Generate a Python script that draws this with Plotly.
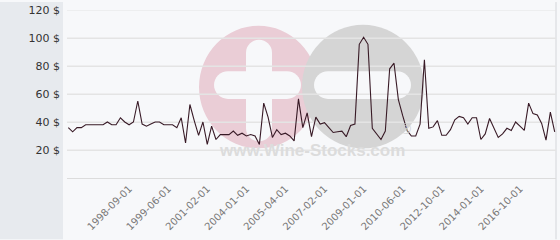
import plotly.graph_objects as go

# ---- data ----
prices = [36, 33, 36, 36, 38, 38, 38, 38, 38, 40,
          38, 38, 43, 40, 38, 40, 55, 38.5, 37, 38.5,
          40, 40, 38, 38, 38, 36, 43, 25, 52.5, 41,
          30.5, 40, 24, 37, 27.5, 31, 31, 31, 33.5, 30.5,
          32, 30, 31, 30, 24, 53.5, 43.5, 29, 34.5, 31,
          32, 30, 26.5, 56.5, 36, 46.5, 29.5, 43.5, 38.5, 39.5,
          36, 32.5, 33, 33.5, 29.5, 37.5, 38.5, 95.5, 100.5, 95.5,
          35.5, 31.5, 27.5, 33.5, 78, 82, 56, 44.5, 34, 30,
          30, 38.5, 84.5, 35.5, 36.5, 41, 30.5, 30.5, 34.5, 41.5,
          44, 43, 38.5, 43, 43, 27.5, 31.5, 42.5, 35.5, 29,
          31.5, 35.5, 34, 40, 37, 34, 53.5, 46, 45, 39,
          27, 47, 33]
point_index = list(range(len(prices)))
tick_labels = ["1998-09-01", "1999-06-01", "2001-02-01", "2004-01-01", "2005-04-01",
               "2007-02-01", "2009-01-01", "2010-06-01", "2012-10-01", "2014-01-01",
               "2016-10-01"]
tick_index = [14, 23, 32, 41, 50, 59, 68, 77, 86, 95, 104]
y_ticks = [20, 40, 60, 80, 100, 120]
y_tick_labels = [f"{v} $" for v in y_ticks]

W, H = 560, 240
ML, MR, MT, MB = 67, 4, 8, 62
PW, PH = W - ML - MR, H - MT - MB
BG = "#f7f8fa"
GRID = "#e4e4e4"
XR = [-0.3, len(prices) - 1 + 0.3]
YR = [0, 120]


def px(x):
    return (x - ML) / PW


def py(y):
    return (H - MB - y) / PH


# decorative watermark placed via data coords
def dx(x):
    return XR[0] + px(x) * (XR[1] - XR[0])


def dy(y):
    return YR[0] + py(y) * (YR[1] - YR[0])


def capsule(x0, x1, y0, y1):
    r = (y1 - y0) / 2 if (x1 - x0) > (y1 - y0) else (x1 - x0) / 2
    k = 0.55 * r
    p = [f"M{dx(x0 + r)},{dy(y0)}",
         f"L{dx(x1 - r)},{dy(y0)}",
         f"C{dx(x1 - r + k)},{dy(y0)} {dx(x1)},{dy(y0 + r - k)} {dx(x1)},{dy(y0 + r)}",
         f"L{dx(x1)},{dy(y1 - r)}",
         f"C{dx(x1)},{dy(y1 - r + k)} {dx(x1 - r + k)},{dy(y1)} {dx(x1 - r)},{dy(y1)}",
         f"L{dx(x0 + r)},{dy(y1)}",
         f"C{dx(x0 + r - k)},{dy(y1)} {dx(x0)},{dy(y1 - r + k)} {dx(x0)},{dy(y1 - r)}",
         f"L{dx(x0)},{dy(y0 + r)}",
         f"C{dx(x0)},{dy(y0 + r - k)} {dx(x0 + r - k)},{dy(y0)} {dx(x0 + r)},{dy(y0)}",
         "Z"]
    return " ".join(p)


D = dict(xref="x", yref="y", layer="below", line_width=0)
shapes = [
    # left panel
    dict(type="rect", xref="paper", yref="paper", x0=px(0), x1=px(63), y0=py(H), y1=py(0),
         fillcolor="#e7eaee", line_width=0, layer="below"),
    # right border
    dict(type="line", xref="paper", yref="paper", x0=px(556), x1=px(556), y0=py(H), y1=py(0),
         line=dict(color="#d4d6da", width=1), layer="below"),
    # watermark circles
    dict(type="circle", x0=dx(199), x1=dx(318), y0=dy(148), y1=dy(24), fillcolor="#eacdd6", **D),
    dict(type="circle", x0=dx(302), x1=dx(424), y0=dy(148), y1=dy(23), fillcolor="#d5d5d5", **D),
    # plus
    dict(type="path", path=capsule(246, 272, 38, 141), fillcolor=BG, **D),
    dict(type="path", path=capsule(214, 301, 70, 98), fillcolor=BG, **D),
    # minus
    dict(type="path", path=capsule(314, 411, 70, 98), fillcolor=BG, **D),
]
# grid lines repeated above the watermark
for v in y_ticks:
    shapes.append(dict(type="line", xref="x", yref="y", x0=XR[0], x1=XR[1], y0=v, y1=v,
                       line=dict(color=GRID, width=1), layer="below"))

fig = go.Figure()
fig.add_trace(go.Scatter(
    x=point_index, y=prices, mode="lines",
    line=dict(color="#381a26", width=1.1),
    hoverinfo="skip", showlegend=False,
))

fig.update_layout(
    width=W, height=H,
    margin=dict(l=ML, r=MR, t=MT, b=MB, pad=0),
    paper_bgcolor=BG,
    plot_bgcolor=BG,
    font=dict(family="DejaVu Sans", size=11, color="#333333"),
    shapes=shapes,
    annotations=[
        dict(text="<b>www.Wine-Stocks.com</b>", xref="paper", yref="paper",
             x=px(312), y=py(162), showarrow=False,
             font=dict(family="Liberation Sans", size=17, color="#dcdcdc")),
        dict(text="®", xref="paper", yref="paper", x=px(413), y=py(139), showarrow=False,
             font=dict(family="Liberation Sans", size=15, color="#d0d0d0")),
    ],
)
fig.update_xaxes(
    range=XR,
    tickmode="array", tickvals=tick_index, ticktext=tick_labels,
    tickangle=-45, tickfont=dict(size=10, color="#777777"),
    showgrid=False, zeroline=False,
    showline=True, linecolor="#dcdcdc", linewidth=1,
    ticks="", ticklen=0,
)
fig.update_yaxes(
    range=YR,
    tickmode="array", tickvals=y_ticks, ticktext=y_tick_labels,
    tickfont=dict(size=11, color="#333333"),
    ticklabelstandoff=6,
    showgrid=True, gridcolor=GRID, gridwidth=1,
    zeroline=False, showline=False, ticks="",
)

fig.write_html("out.html")
